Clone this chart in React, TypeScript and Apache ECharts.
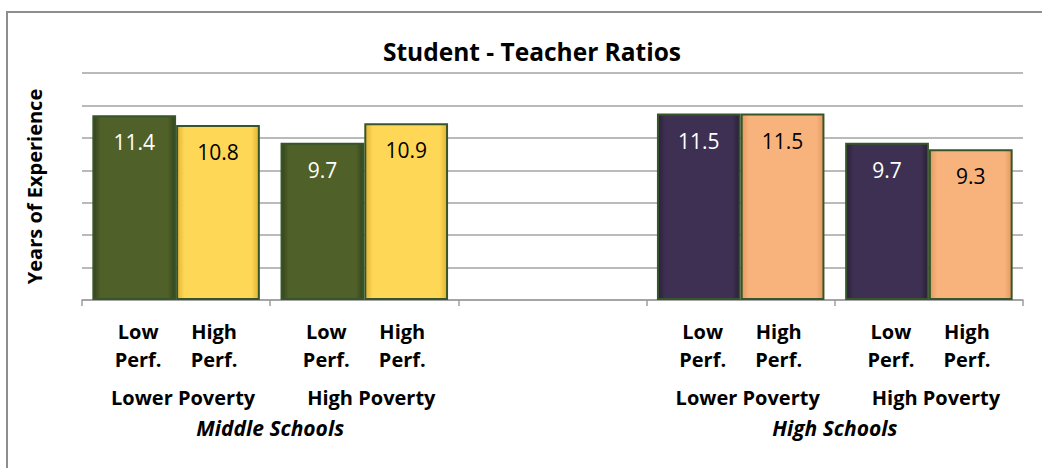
import React, { useEffect, useRef } from "react";
import * as echarts from "echarts";

// ---- data ----
const categories = ["ms-lp", "ms-hp", "gap", "hs-lp", "hs-hp"];
const povertyLabels = ["Lower Poverty", "High Poverty", "", "Lower Poverty", "High Poverty"];
const schoolOfCategory = ["middle", "middle", null, "high", "high"];
const perfLevels = ["Low", "High"];
const lowPerf = [11.4, 9.7, null, 11.5, 9.7];
const highPerf = [10.8, 10.9, null, 11.5, 9.3];
const schoolLevels = ["middle", "high"];
const schoolNames = ["Middle Schools", "High Schools"];
const titleText = "Student - Teacher Ratios";
const yAxisTitle = "Years of Experience";

// ---- styles ----
const FONT = "'Open Sans', 'Noto Sans', sans-serif";
const palette: Record<string, { fill: string; edge: string; label: string }[]> = {
  middle: [
    { fill: "#4F6129", edge: "#36441B", label: "#FFFFFF" },
    { fill: "#FED756", edge: "#E2B233", label: "#000000" },
  ],
  high: [
    { fill: "#3E3052", edge: "#2A2039", label: "#FFFFFF" },
    { fill: "#F8B37D", edge: "#E39A5F", label: "#000000" },
  ],
};

function grad(fill: string, edge: string) {
  return {
    type: "linear",
    x: 0,
    y: 0,
    x2: 1,
    y2: 0,
    colorStops: [
      { offset: 0, color: edge },
      { offset: 0.09, color: fill },
      { offset: 0.91, color: fill },
      { offset: 1, color: edge },
    ],
  };
}

function buildSeriesData(values: (number | null)[], perfIdx: number) {
  return values.map((v, i) => {
    const school = schoolOfCategory[i];
    if (v == null || !school) return null;
    const p = palette[school][perfIdx];
    return {
      value: v,
      itemStyle: { color: grad(p.fill, p.edge) },
      label: { color: p.label },
    };
  });
}

function schoolCenter(idx: number) {
  const school = schoolLevels[idx];
  const idxs = schoolOfCategory
    .map((s, i) => (s === school ? i : -1))
    .filter((i) => i >= 0);
  return (Math.min(...idxs) + Math.max(...idxs) + 1) / 2;
}

export default function App() {
  const ref = useRef<HTMLDivElement>(null);

  useEffect(() => {
    if (!ref.current) return;
    const chart = echarts.init(ref.current, null, { renderer: "svg" });
    const centers = schoolLevels.map((_, i) => schoolCenter(i));

    const barLabel = {
      show: true,
      position: "insideTop",
      distance: 16,
      fontFamily: FONT,
      fontSize: 21,
      lineHeight: 22,
      formatter: (p: any) => Number(p.value).toFixed(1),
    };

    const option: any = {
      animation: false,
      backgroundColor: "#FFFFFF",
      title: {
        text: titleText,
        left: 527,
        top: 34,
        textAlign: "center",
        textStyle: {
          fontFamily: FONT,
          fontSize: 24.5,
          fontWeight: "bold",
          color: "#000000",
        },
      },
      graphic: [
        {
          type: "rect",
          shape: { x: 7, y: 12, width: 1100, height: 500 },
          style: { fill: "none", stroke: "#8E8E8E", lineWidth: 2 },
          silent: true,
        },
      ],
      grid: { left: 82, right: 19, top: 73, bottom: 168 },
      xAxis: [
        {
          type: "category",
          data: categories,
          axisLine: { lineStyle: { color: "#9E9E9E", width: 1.5 } },
          axisTick: { show: true, length: 6, lineStyle: { color: "#9E9E9E", width: 1.5 } },
          axisLabel: {
            interval: 0,
            margin: 17,
            formatter: (_v: string, i: number) => {
              const pov = povertyLabels[i];
              if (!pov) return "";
              const l1 = perfLevels.map((p) => `{a|${p}}`).join("");
              const l2 = perfLevels.map(() => `{a|Perf.}`).join("");
              return `${l1}\n${l2}\n{c|${pov}}`;
            },
            rich: {
              a: {
                width: 76,
                align: "center",
                fontFamily: FONT,
                fontWeight: "bold",
                fontSize: 20,
                lineHeight: 28,
                color: "#000000",
              },
              c: {
                fontFamily: FONT,
                fontWeight: "bold",
                fontSize: 20,
                lineHeight: 48,
                color: "#000000",
                padding: [0, 0, 0, 14],
              },
            },
          },
          splitLine: { show: false },
        },
        {
          type: "value",
          position: "bottom",
          min: 0,
          max: categories.length,
          interval: 1,
          axisLine: { show: false },
          axisTick: { show: false },
          splitLine: { show: false },
          axisLabel: {
            margin: 117,
            showMinLabel: true,
            showMaxLabel: true,
            fontFamily: FONT,
            fontWeight: "bold",
            fontStyle: "italic",
            fontSize: 21,
            color: "#000000",
            formatter: (v: number) => {
              const k = centers.findIndex((c) => Math.abs(c - v) < 1e-6);
              return k >= 0 ? schoolNames[k] : "";
            },
          },
        },
      ],
      yAxis: {
        type: "value",
        min: 0,
        max: 14,
        interval: 2,
        name: yAxisTitle,
        nameLocation: "middle",
        nameRotate: 90,
        nameGap: 38,
        nameTextStyle: {
          fontFamily: FONT,
          fontWeight: "bold",
          fontSize: 20,
          color: "#000000",
        },
        axisLine: { show: false },
        axisTick: { show: false },
        axisLabel: { show: false },
        splitLine: { lineStyle: { color: "#A3A3A3", width: 1.5 } },
      },
      series: [
        {
          name: perfLevels[0] + " Perf.",
          type: "bar",
          xAxisIndex: 0,
          data: buildSeriesData(lowPerf, 0),
          barGap: "0%",
          barCategoryGap: "11%",
          itemStyle: { borderColor: "#37552A", borderWidth: 2 },
          label: barLabel,
        },
        {
          name: perfLevels[1] + " Perf.",
          type: "bar",
          xAxisIndex: 0,
          data: buildSeriesData(highPerf, 1),
          barGap: "0%",
          barCategoryGap: "11%",
          itemStyle: { borderColor: "#37552A", borderWidth: 2 },
          label: barLabel,
        },
      ],
    };

    chart.setOption(option);
    return () => chart.dispose();
  }, []);

  return (
    <div
      ref={ref}
      style={{ position: "fixed", left: 0, top: 0, width: 1042, height: 468 }}
    />
  );
}
